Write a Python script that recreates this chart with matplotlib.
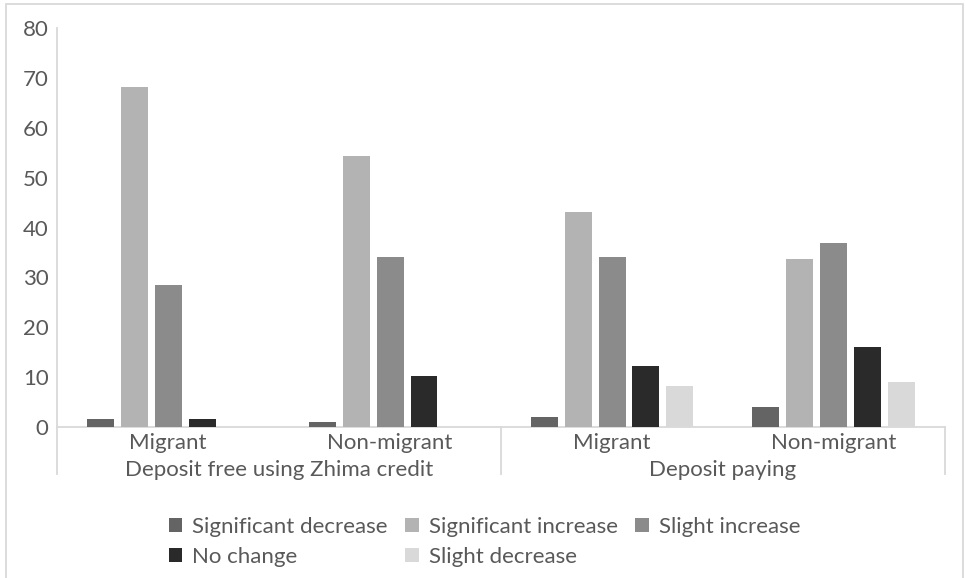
import matplotlib.pyplot as plt
import numpy as np
from matplotlib.patches import Rectangle
from matplotlib.transforms import blended_transform_factory

plt.rcParams["font.family"] = ["Lato", "DejaVu Sans"]

# data
subcats = ["Migrant", "Non-migrant", "Migrant", "Non-migrant"]
groups = ["Deposit free using Zhima credit", "Deposit paying"]
series = ["Significant decrease", "Significant increase", "Slight increase", "No change", "Slight decrease"]
sig_decrease = [1.6, 1.0, 2.0, 4.0]
sig_increase = [68.1, 54.4, 43.1, 33.7]
slight_increase = [28.5, 34.1, 34.1, 36.9]
no_change = [1.6, 10.2, 12.2, 16.0]
slight_decrease = [0.0, 0.0, 8.2, 9.0]
values = [sig_decrease, sig_increase, slight_increase, no_change, slight_decrease]
colors = ["#646464", "#b3b3b3", "#8b8b8b", "#2a2a2a", "#d9d9d9"]

TEXT = "#595959"
LINE = "#d9d9d9"
FS = 16

fig = plt.figure(figsize=(9.65, 5.78), dpi=100)
ax = fig.add_axes([57 / 965, 1 - 427 / 578, (945 - 57) / 965, (427 - 28) / 578])

x = np.arange(len(subcats))
step = 34 / 222
width = 27 / 222
bars = []
for j, (name, vals, col) in enumerate(zip(series, values, colors)):
    b = ax.bar(x + (j - 2) * step, vals, width, color=col, label=name, zorder=3)
    bars.append(b)

ax.set_xlim(-0.5, 3.5)
ax.set_ylim(0, 80)
ax.set_yticks(np.arange(0, 81, 10))
ax.tick_params(axis="y", length=0, pad=6, labelsize=FS, labelcolor=TEXT)
ax.set_xticks(x)
ax.set_xticklabels(subcats)
ax.tick_params(axis="x", length=0, pad=4, labelsize=FS, labelcolor=TEXT)

for s in ["top", "right"]:
    ax.spines[s].set_visible(False)
for s in ["left", "bottom"]:
    ax.spines[s].set_color(LINE)
    ax.spines[s].set_linewidth(1.3)

# group separators and labels under the axis
tr = blended_transform_factory(ax.transData, ax.transAxes)
drop = (474 - 427) / 399
for xs in [-0.5, 1.5, 3.5]:
    ax.plot([xs, xs], [0, -drop], transform=tr, color=LINE, lw=1.3, clip_on=False)
for k, g in enumerate(groups):
    ax.text(2 * k + 0.5, -(470 - 427) / 399, g, transform=tr, ha="center", va="center",
            fontsize=FS, color=TEXT)

# legend, row-wise order
order = [0, 3, 1, 4, 2]
leg = fig.legend([bars[i] for i in order], [series[i] for i in order],
                 loc="center", bbox_to_anchor=(0.502, 1 - 542 / 578), ncol=3,
                 frameon=False, fontsize=FS, handlelength=0.6, handleheight=0.6,
                 handletextpad=0.45, columnspacing=0.8, labelspacing=0.45, borderpad=0)
for t in leg.get_texts():
    t.set_color(TEXT)

# chart border
fig.patches.append(Rectangle((6 / 965, -0.01), (963 - 6) / 965, 1.01 - 4 / 578,
                             transform=fig.transFigure, fill=False, edgecolor=LINE, lw=1.3))

fig.savefig("out.png", dpi=100, facecolor="white")
